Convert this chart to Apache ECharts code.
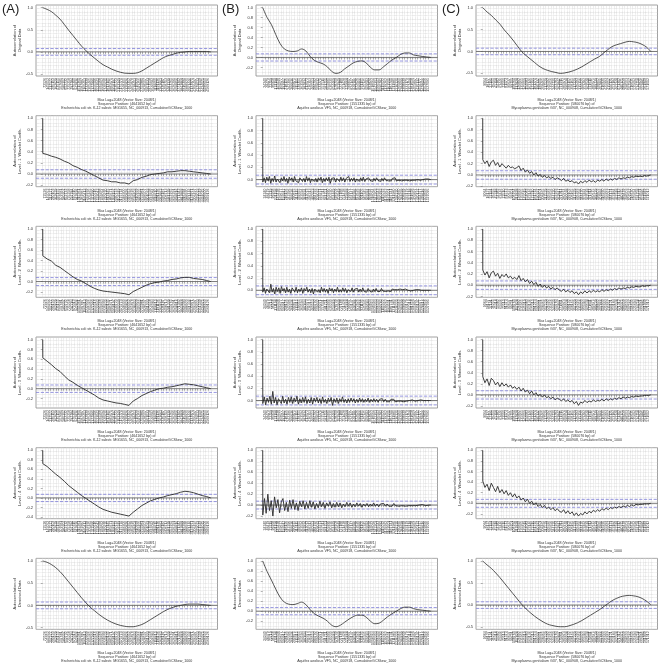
<!DOCTYPE html>
<html><head><meta charset="utf-8">
<script src="https://cdn.jsdelivr.net/npm/echarts@6/dist/echarts.min.js"></script>
<style>html,body{margin:0;padding:0;background:#fff}#c{width:661px;height:664px}</style>
</head><body><div id="c"></div>
<script>
// ---------- texts ----------
const panelLetters = ['(A)', '(B)', '(C)'];
const organisms = [
  'Escherichia coli str. K-12 substr. MG1655, NC_000913, CumulativeGCSkew_1000',
  'Aquifex aeolicus VF5, NC_000918, CumulativeGCSkew_1000',
  'Mycoplasma genitalium G37, NC_000908, CumulativeGCSkew_1000'
];
const seqLengths = [4641652, 1551335, 580076];
const maxLagLines = ['Max Lag=2048 (Vector Size: 2048/1)', 'Max Lag=2048 (Vector Size: 2048/1)', 'Max Lag=2048 (Vector Size: 2048/1)'];
const rowNames = ['Original Data', 'Level - 1  Wavelet Coeffs.', 'Level - 2  Wavelet Coeffs.',
  'Level - 3  Wavelet Coeffs.', 'Level - 4  Wavelet Coeffs.', 'Denoised Data'];
const ciLevels = [0.076, 0.072, 0.075];

// ---------- y tick labels ----------
const ticksHalf = [-0.5, 0.0, 0.5, 1.0];
const ticksM2 = [-0.2, 0.0, 0.2, 0.4, 0.6, 0.8, 1.0];
const ticksM4 = [-0.4, -0.2, 0.0, 0.2, 0.4, 0.6, 0.8, 1.0];
const ticks0 = [0.0, 0.2, 0.4, 0.6, 0.8, 1.0];

// ---------- ACF values (index 0 = lag 0, then evenly spaced lags 1..2048) ----------
const acfA1 = [1.0, 1.0, 0.96, 0.91, 0.83, 0.74, 0.62, 0.49, 0.37, 0.25, 0.13, 0.03, -0.06, -0.14, -0.22, -0.29, -0.34, -0.39, -0.43, -0.46, -0.48, -0.485, -0.485, -0.47, -0.43, -0.37, -0.31, -0.25, -0.19, -0.13, -0.09, -0.06, -0.03, -0.01, 0.0, 0.01, 0.01, 0.01, 0.01, 0.01, 0.0];
const acfA2 = [1.0, 0.37, 0.35, 0.32, 0.3, 0.27, 0.23, 0.2, 0.15, 0.12, 0.08, 0.05, 0.01, -0.03, -0.07, -0.11, -0.12, -0.14, -0.14, -0.16, -0.16, -0.18, -0.12, -0.1, -0.06, -0.04, -0.01, 0.0, 0.01, 0.02, 0.04, 0.04, 0.05, 0.06, 0.06, 0.05, 0.04, 0.03, 0.02, 0.01, 0.0];
const acfA3 = [1.0, 0.49, 0.43, 0.39, 0.31, 0.27, 0.21, 0.15, 0.09, 0.04, 0.01, -0.04, -0.09, -0.13, -0.16, -0.18, -0.19, -0.2, -0.21, -0.22, -0.23, -0.25, -0.19, -0.15, -0.11, -0.07, -0.04, -0.02, -0.01, 0.01, 0.02, 0.04, 0.05, 0.07, 0.08, 0.08, 0.06, 0.05, 0.04, 0.02, 0.0];
const acfA4 = [1.0, 0.63, 0.56, 0.49, 0.41, 0.35, 0.26, 0.18, 0.13, 0.07, 0.02, -0.03, -0.08, -0.13, -0.19, -0.23, -0.25, -0.27, -0.29, -0.3, -0.32, -0.34, -0.25, -0.2, -0.14, -0.1, -0.06, -0.03, 0.0, 0.01, 0.03, 0.04, 0.06, 0.08, 0.1, 0.09, 0.08, 0.06, 0.04, 0.02, 0.0];
const acfA5 = [1.0, 0.72, 0.66, 0.58, 0.5, 0.43, 0.35, 0.26, 0.19, 0.12, 0.05, -0.01, -0.07, -0.13, -0.19, -0.24, -0.27, -0.3, -0.32, -0.34, -0.36, -0.38, -0.3, -0.23, -0.16, -0.11, -0.06, -0.03, 0.0, 0.02, 0.05, 0.07, 0.09, 0.12, 0.14, 0.13, 0.11, 0.08, 0.05, 0.03, 0.0];
const acfA6 = [1.0, 1.0, 0.97, 0.92, 0.85, 0.76, 0.65, 0.53, 0.41, 0.29, 0.17, 0.06, -0.04, -0.12, -0.2, -0.27, -0.33, -0.38, -0.42, -0.45, -0.47, -0.48, -0.48, -0.46, -0.43, -0.38, -0.32, -0.26, -0.2, -0.14, -0.09, -0.05, -0.02, 0.0, 0.02, 0.03, 0.03, 0.03, 0.02, 0.01, 0.0];

const acfB1 = [1.0, 1.0, 0.8, 0.66, 0.46, 0.28, 0.17, 0.13, 0.12, 0.13, 0.17, 0.13, 0.02, -0.06, -0.1, -0.13, -0.19, -0.28, -0.32, -0.3, -0.23, -0.17, -0.11, -0.08, -0.07, -0.11, -0.2, -0.25, -0.25, -0.19, -0.12, -0.05, 0.0, 0.06, 0.09, 0.09, 0.05, 0.035, 0.02, 0.01, 0.0];
const acfB2 = [1.0, -0.04, 0.03, -0.05, 0.04, -0.02, 0.05, -0.06, 0.02, -0.03, 0.06, -0.04, 0.01, 0.04, -0.05, 0.03, -0.02, 0.05, -0.03, 0.02, -0.06, 0.04, -0.01, 0.03, -0.04, 0.05, -0.02, 0.01, -0.05, 0.03, 0.04, -0.03, 0.02, -0.04, 0.05, -0.02, 0.03, -0.05, 0.01, 0.04, -0.03, 0.02, -0.04, 0.03, -0.01, 0.04, -0.05, 0.02, -0.03, 0.03, -0.02, 0.04, -0.06, 0.02, -0.01, 0.03, -0.04, 0.02, 0.01, -0.03, 0.04, -0.02, 0.03, -0.04, 0.02, -0.01, 0.05, -0.03, 0.02, -0.02, 0.03, -0.04, 0.01, 0.02, -0.03, 0.03, -0.02, 0.04, -0.03, 0.01, -0.02, 0.03, -0.01, 0.02, -0.03, 0.02, -0.02, 0.03, -0.01, 0.01, -0.03, 0.02, -0.02, 0.03, -0.01, 0.02, -0.02, 0.01, -0.02, 0.02, -0.01, 0.03, -0.02, 0.01, -0.01, 0.02, -0.02, 0.01, -0.01, 0.02, -0.01, 0.01, -0.02, 0.01, -0.01, 0.02, -0.01, 0.01, 0.0, 0.01, -0.01, 0.01, 0.0, -0.01, 0.01, 0.0, 0.01, -0.01, 0.0];
const acfB3 = [1.0, -0.03, 0.04, -0.05, 0.02, 0.05, -0.04, 0.1, -0.03, 0.03, -0.06, 0.05, -0.02, 0.04, -0.05, 0.06, -0.01, 0.03, -0.04, 0.05, -0.03, 0.02, -0.05, 0.04, 0.01, -0.03, 0.05, -0.04, 0.02, -0.02, 0.04, -0.05, 0.03, -0.01, 0.05, -0.03, 0.02, -0.04, 0.03, -0.06, 0.02, 0.04, -0.03, 0.01, -0.04, 0.05, -0.02, 0.03, -0.03, 0.02, -0.05, 0.04, -0.01, 0.03, -0.04, 0.02, -0.02, 0.05, -0.03, 0.01, -0.03, 0.04, -0.02, 0.03, -0.04, 0.01, 0.03, -0.02, 0.04, -0.03, 0.02, -0.01, 0.03, -0.03, 0.02, -0.02, 0.04, -0.02, 0.01, -0.03, 0.03, -0.01, 0.02, -0.03, 0.02, -0.02, 0.03, -0.02, 0.01, -0.02, 0.03, -0.01, 0.02, -0.02, 0.01, -0.01, 0.02, -0.02, 0.02, -0.01, 0.01, -0.02, 0.01, -0.01, 0.02, -0.01, 0.01, -0.01, 0.02, -0.01, 0.0, 0.01, -0.01, 0.01, 0.0, -0.01, 0.01, 0.0, 0.01, -0.01, 0.0, 0.01, 0.0, -0.01, 0.0, 0.01, 0.0, 0.0];
const acfB4 = [1.0, -0.05, 0.06, -0.07, 0.04, -0.03, 0.07, -0.06, 0.15, -0.04, 0.05, -0.07, 0.03, 0.06, -0.05, 0.07, -0.04, 0.02, -0.06, 0.05, -0.03, 0.06, -0.05, 0.04, -0.02, 0.07, -0.06, 0.03, -0.04, 0.05, -0.03, 0.06, -0.05, 0.02, -0.04, 0.05, -0.06, 0.04, -0.02, 0.05, -0.04, 0.03, -0.05, 0.06, -0.03, 0.02, -0.05, 0.04, -0.02, 0.05, -0.08, 0.03, -0.03, 0.04, -0.05, 0.03, -0.02, 0.06, -0.03, 0.02, -0.04, 0.03, -0.03, 0.04, -0.02, 0.03, -0.04, 0.02, -0.03, 0.04, -0.02, 0.03, -0.03, 0.02, -0.02, 0.04, -0.03, 0.02, -0.02, 0.03, -0.02, 0.02, -0.03, 0.02, -0.01, 0.03, -0.02, 0.02, -0.02, 0.01, -0.02, 0.02, -0.01, 0.02, -0.02, 0.01, -0.01, 0.02, -0.01, 0.01, -0.02, 0.01, -0.01, 0.01, 0.0, -0.01, 0.01, 0.0, -0.01, 0.01, 0.0, 0.0, 0.01, -0.01, 0.0, 0.01, 0.0, -0.01, 0.0, 0.0];
const acfB5 = [1.0, -0.18, 0.12, -0.15, 0.2, -0.1, 0.08, -0.2, 0.15, -0.05, 0.1, -0.14, 0.06, 0.12, -0.1, 0.05, -0.12, 0.09, -0.06, 0.1, -0.08, 0.04, -0.1, 0.07, -0.03, 0.08, -0.07, 0.05, -0.06, 0.08, -0.04, 0.06, -0.07, 0.03, -0.05, 0.07, -0.03, 0.05, -0.06, 0.04, -0.02, 0.06, -0.05, 0.03, -0.04, 0.05, -0.03, 0.04, -0.05, 0.02, -0.03, 0.05, -0.02, 0.04, -0.04, 0.02, -0.03, 0.04, -0.02, 0.03, -0.04, 0.02, -0.02, 0.03, -0.03, 0.02, -0.02, 0.04, -0.02, 0.02, -0.03, 0.02, -0.01, 0.03, -0.02, 0.02, -0.02, 0.01, -0.02, 0.03, -0.01, 0.02, -0.02, 0.01, -0.01, 0.02, -0.02, 0.01, -0.01, 0.02, -0.01, 0.01, -0.01, 0.01, 0.0, -0.01, 0.01, 0.0, -0.01, 0.01, 0.0, 0.0];
const acfB6 = [1.0, 1.0, 0.79, 0.62, 0.44, 0.28, 0.18, 0.14, 0.13, 0.15, 0.18, 0.13, 0.03, -0.05, -0.1, -0.14, -0.2, -0.28, -0.31, -0.28, -0.22, -0.16, -0.11, -0.08, -0.08, -0.12, -0.2, -0.25, -0.24, -0.18, -0.11, -0.05, 0.0, 0.05, 0.08, 0.08, 0.05, 0.03, 0.02, 0.01, 0.0];

const acfC1 = [1.0, 1.0, 0.9, 0.82, 0.72, 0.62, 0.49, 0.38, 0.26, 0.13, 0.0, -0.09, -0.17, -0.25, -0.33, -0.39, -0.43, -0.46, -0.48, -0.5, -0.49, -0.47, -0.44, -0.4, -0.35, -0.29, -0.23, -0.17, -0.12, -0.04, 0.04, 0.11, 0.15, 0.18, 0.21, 0.23, 0.22, 0.2, 0.16, 0.1, 0.0];
const acfC2 = [1.0, 0.27, 0.2, 0.25, 0.15, 0.23, 0.26, 0.17, 0.22, 0.14, 0.2, 0.16, 0.12, 0.17, 0.13, 0.14, 0.11, 0.13, 0.16, 0.08, 0.12, 0.05, 0.09, 0.03, 0.06, 0.0, 0.04, -0.02, 0.01, -0.04, -0.01, -0.05, -0.03, -0.06, -0.04, -0.08, -0.05, -0.07, -0.1, -0.06, -0.11, -0.09, -0.12, -0.1, -0.14, -0.12, -0.16, -0.11, -0.14, -0.1, -0.13, -0.09, -0.12, -0.1, -0.13, -0.09, -0.11, -0.08, -0.11, -0.07, -0.1, -0.07, -0.09, -0.06, -0.08, -0.05, -0.07, -0.05, -0.06, -0.04, -0.05, -0.03, -0.04, -0.02, -0.03, -0.02, -0.03, -0.01, -0.02, -0.01, 0.0];
const acfC3 = [1.0, 0.27, 0.18, 0.24, 0.13, 0.22, 0.25, 0.16, 0.21, 0.12, 0.19, 0.15, 0.2, 0.13, 0.16, 0.11, 0.14, 0.1, 0.17, 0.08, 0.12, 0.06, 0.1, 0.03, 0.07, 0.01, 0.05, -0.02, 0.02, -0.04, 0.0, -0.05, -0.02, -0.07, -0.04, -0.08, -0.05, -0.09, -0.11, -0.07, -0.12, -0.09, -0.13, -0.1, -0.15, -0.12, -0.17, -0.12, -0.15, -0.1, -0.14, -0.1, -0.13, -0.09, -0.12, -0.1, -0.12, -0.08, -0.11, -0.08, -0.1, -0.07, -0.09, -0.06, -0.08, -0.05, -0.07, -0.05, -0.06, -0.04, -0.05, -0.03, -0.04, -0.02, -0.03, -0.03, -0.01, -0.02, -0.01, -0.01, 0.0];
const acfC4 = [1.0, 0.33, 0.22, 0.29, 0.17, 0.3, 0.26, 0.18, 0.23, 0.15, 0.22, 0.16, 0.2, 0.14, 0.18, 0.12, 0.15, 0.1, 0.14, 0.07, 0.12, 0.05, 0.09, 0.02, 0.07, 0.0, 0.04, -0.02, 0.01, -0.04, 0.0, -0.05, -0.03, -0.07, -0.04, -0.09, -0.06, -0.08, -0.11, -0.07, -0.12, -0.09, -0.13, -0.1, -0.16, -0.12, -0.19, -0.13, -0.15, -0.1, -0.14, -0.11, -0.13, -0.09, -0.12, -0.1, -0.11, -0.08, -0.11, -0.07, -0.1, -0.07, -0.09, -0.06, -0.08, -0.05, -0.07, -0.04, -0.06, -0.04, -0.05, -0.03, -0.04, -0.02, -0.03, -0.02, -0.02, -0.01, -0.01, -0.01, 0.0];
const acfC5 = [1.0, 0.42, 0.3, 0.36, 0.24, 0.38, 0.3, 0.22, 0.32, 0.2, 0.26, 0.18, 0.24, 0.15, 0.2, 0.12, 0.18, 0.1, 0.14, 0.06, 0.1, 0.03, 0.08, 0.0, 0.04, -0.03, 0.01, -0.06, -0.02, -0.08, -0.04, -0.1, -0.07, -0.12, -0.08, -0.14, -0.1, -0.15, -0.17, -0.12, -0.19, -0.14, -0.2, -0.16, -0.23, -0.18, -0.24, -0.19, -0.22, -0.16, -0.2, -0.15, -0.18, -0.13, -0.16, -0.12, -0.15, -0.1, -0.13, -0.09, -0.12, -0.08, -0.1, -0.07, -0.09, -0.06, -0.08, -0.05, -0.07, -0.04, -0.06, -0.03, -0.05, -0.02, -0.03, -0.02, -0.02, -0.01, -0.01, -0.01, 0.0];
const acfC6 = [1.0, 1.0, 0.91, 0.83, 0.73, 0.62, 0.5, 0.38, 0.26, 0.14, 0.02, -0.08, -0.17, -0.25, -0.32, -0.38, -0.43, -0.46, -0.48, -0.49, -0.49, -0.47, -0.44, -0.4, -0.35, -0.29, -0.23, -0.17, -0.11, -0.04, 0.03, 0.1, 0.15, 0.19, 0.21, 0.22, 0.21, 0.19, 0.15, 0.09, 0.01];

const panelData = [
  [acfA1, acfA2, acfA3, acfA4, acfA5, acfA6],
  [acfB1, acfB2, acfB3, acfB4, acfB5, acfB6],
  [acfC1, acfC2, acfC3, acfC4, acfC5, acfC6]
];
const panelTicks = [
  [ticksHalf, ticksM2, ticksM2, ticksM2, ticksM4, ticksHalf],
  [ticksM2, ticks0, ticks0, ticks0, ticksM2, ticksM2],
  [ticksHalf, ticksM2, ticksM2, ticksM2, ticksM2, ticksHalf]
];
const smoothRows = [true, false, false, false, false, true];
const MAX_LAG = 2048;
const LAG_STEP = 32;

// ---------- layout ----------
const colLeft = [0, 220, 440];
const rowPitch = 110.67;
const BOX_L = 36, BOX_W = 181.5, BOX_T = 5, BOX_H = 71;
const FONT = 'Liberation Sans, Arial, Helvetica, sans-serif';

function lagOf(k, n) { return k === 0 ? 0 : 1 + (k - 1) * (MAX_LAG - 1) / (n - 2); }

const grid = [], xAxis = [], yAxis = [], series = [], graphic = [];

for (let c = 0; c < 3; c++) {
  graphic.push({ type: 'text', left: colLeft[c] + 2, top: 3,
    style: { text: panelLetters[c], font: '13px ' + FONT, fill: '#222' } });
  for (let r = 0; r < 6; r++) {
    const vals = panelData[c][r];
    const ci = ciLevels[c];
    const boxL = colLeft[c] + BOX_L;
    const boxT = BOX_T + r * rowPitch;
    const dw = BOX_W / 1.08, pad = BOX_W * 0.04 / 1.08;
    let lo = Math.min(...vals, -ci), hi = Math.max(...vals, ci);
    const span = hi - lo;
    const ymin = lo - 0.04 * span, ymax = hi + 0.04 * span;

    // frame grid (box + horizontal dotted mesh + reference lines)
    const gF = grid.length;
    grid.push({ left: boxL, top: boxT, width: BOX_W, height: BOX_H, show: true,
      borderColor: '#8a8a8a', borderWidth: 0.8, backgroundColor: 'transparent' });
    const xF = xAxis.length;
    xAxis.push({ gridIndex: gF, type: 'value', min: 0, max: 1, show: false });
    const yFg = yAxis.length;
    yAxis.push({ gridIndex: gF, type: 'value', min: 0, max: 20, interval: 1,
      axisLine: { show: false }, axisTick: { show: false }, axisLabel: { show: false },
      splitLine: { show: true, lineStyle: { type: 'dotted', color: '#cfcfcf', width: 0.6 } } });
    const yFs = yAxis.length;
    yAxis.push({ gridIndex: gF, type: 'value', min: ymin, max: ymax, show: false });
    const refLine = (y, type, color) => ({ type: 'line', xAxisIndex: xF, yAxisIndex: yFs,
      data: [[0, y], [1, y]], symbol: 'none', silent: true, z: 3,
      lineStyle: { type: type, color: color, width: 0.8 } });
    series.push(refLine(0, 'solid', '#555'));
    series.push(refLine(ci, 'dashed', '#7d7dd8'));
    series.push(refLine(-ci, 'dashed', '#7d7dd8'));

    // main data grid
    const gM = grid.length;
    grid.push({ left: boxL + pad, top: boxT, width: dw, height: BOX_H });
    const xM = xAxis.length;
    const seqLen = seqLengths[c];
    xAxis.push({ gridIndex: gM, type: 'value', min: 0, max: MAX_LAG, interval: LAG_STEP,
      axisLine: { show: false },
      axisTick: { show: true, length: 2, lineStyle: { color: '#666', width: 0.5 } },
      axisLabel: { rotate: 90, fontSize: 3.5, margin: 2, color: '#333', fontFamily: FONT,
        formatter: v => String(Math.round(v * seqLen / MAX_LAG)) },
      splitLine: { show: true, lineStyle: { type: 'dotted', color: '#cfcfcf', width: 0.6 } } });
    const yM = yAxis.length;
    const ticks = panelTicks[c][r];
    yAxis.push({ gridIndex: gM, type: 'value', min: ymin, max: ymax, offset: pad,
      name: 'Autocorrelation of\n' + rowNames[r], nameLocation: 'middle', nameGap: 14, nameRotate: 90,
      nameTextStyle: { fontSize: 4, lineHeight: 5, color: '#333', fontFamily: FONT },
      axisLine: { show: false },
      axisTick: { show: true, length: 2, customValues: ticks, lineStyle: { color: '#666', width: 0.5 } },
      axisLabel: { fontSize: 4, margin: 3, color: '#333', fontFamily: FONT, customValues: ticks,
        formatter: v => v.toFixed(1) },
      splitLine: { show: false } });
    series.push({ type: 'line', xAxisIndex: xM, yAxisIndex: yM, z: 4,
      data: vals.map((v, k) => [lagOf(k, vals.length), v]),
      showSymbol: false, symbol: 'none', smooth: smoothRows[r] ? 0.35 : false,
      lineStyle: { color: '#2b2b2b', width: smoothRows[r] ? 0.8 : 0.9 } });

    // caption
    const cx = boxL + BOX_W / 2;
    const capLines = [maxLagLines[c], 'Sequence Position: (' + seqLen + ' bp) of', organisms[c]];
    capLines.forEach((t, i) => graphic.push({ type: 'text', x: cx, y: boxT + BOX_H + 24 + i * 4,
      style: { text: t, font: '3.6px ' + FONT, fill: '#333', textAlign: 'center', textVerticalAlign: 'middle' } }));
  }
}

const chart = echarts.init(document.getElementById('c'), null, { renderer: 'canvas' });
chart.setOption({ animation: false, backgroundColor: '#fff', grid, xAxis, yAxis, series, graphic });
</script></body></html>
